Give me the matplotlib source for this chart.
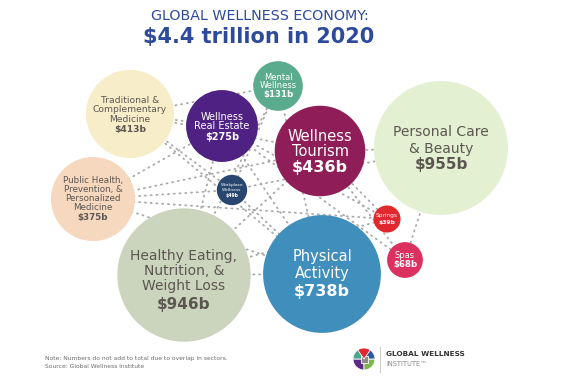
import numpy as np
import matplotlib
matplotlib.use("Agg")
import matplotlib.pyplot as plt
from matplotlib.patches import Circle, Wedge, Rectangle

# ---- data ----
sectors = ["Traditional & Complementary Medicine", "Wellness Real Estate", "Mental Wellness",
           "Wellness Tourism", "Personal Care & Beauty", "Public Health, Prevention, & Personalized Medicine",
           "Workplace Wellness", "Springs", "Spas",
           "Healthy Eating, Nutrition, & Weight Loss", "Physical Activity"]
values = [413, 275, 131, 436, 955, 375, 49, 39, 68, 946, 738]   # US$ billions
labels = ["Traditional &\nComplementary\nMedicine", "Wellness\nReal Estate", "Mental\nWellness",
          "Wellness\nTourism", "Personal Care\n& Beauty", "Public Health,\nPrevention, &\nPersonalized\nMedicine",
          "Workplace\nWellness", "Springs", "Spas",
          "Healthy Eating,\nNutrition, &\nWeight Loss", "Physical\nActivity"]
title_line1 = "GLOBAL WELLNESS ECONOMY:"
title_line2 = "$4.4 trillion in 2020"
note = "Note: Numbers do not add to total due to overlap in sectors.\nSource: Global Wellness Institute"

# network connections between sectors (indices into sectors)
links = [(0, 2), (0, 1), (0, 10), (0, 3), (5, 1), (5, 6), (5, 7), (5, 3),
         (9, 10), (9, 2), (9, 3), (1, 10), (2, 10), (3, 4), (3, 8), (3, 7),
         (4, 8), (9, 7), (1, 8), (6, 4), (5, 10), (1, 7), (0, 6), (9, 1),
         (6, 10), (2, 6)]

# ---- layout / style ----
pos = [(130, 114), (222, 126), (278, 86), (320, 151), (441, 148), (93, 199),
       (232, 190), (387, 219), (405, 260), (184, 275), (322, 274)]
colors = ["#f7edc9", "#4f2182", "#5bab8f", "#8f1d57", "#e3f0d2", "#f5d8be",
          "#29476e", "#e1282f", "#dc3160", "#cbd5bd", "#3f8ebc"]
dark_txt = "#5c5651"
txt_colors = [dark_txt, "white", "white", "white", dark_txt, dark_txt,
              "white", "white", "white", dark_txt, "white"]
lab_size = [6.6, 7.0, 6.0, 10.5, 10.0, 6.3, 3.2, 4.2, 6.0, 10.0, 10.5]
val_size = [6.6, 7.0, 6.2, 11.5, 11.0, 6.3, 3.3, 4.3, 6.2, 11.0, 11.5]
pitch = [9.5, 9.0, 8.0, 15.5, 17.0, 9.3, 5.0, 7.0, 8.0, 15.0, 17.0]     # label line pitch (px)
vgap = [10.0, 11.0, 10.0, 16.0, 16.0, 10.0, 5.0, 7.0, 8.0, 18.0, 18.0]  # gap to value line (px)
yshift = [1, 1, 0, 1, 0, 0, 0, 0, 0, 5, 0]
rmax = 67.0
radii = [rmax * np.sqrt(v / max(values)) for v in values]

W, H = 585, 377
fig = plt.figure(figsize=(W / 100, H / 100), dpi=100)
ax = fig.add_axes([0, 0, 1, 1])
ax.set_xlim(0, W)
ax.set_ylim(H, 0)
ax.set_aspect("equal")
ax.axis("off")

font = "DejaVu Sans"
title_col = "#2e4a9b"
ax.text(260, 16, title_line1, ha="center", va="center", fontsize=10.3,
        color=title_col, family=font)
ax.text(259, 37, title_line2, ha="center", va="center", fontsize=15.0,
        color=title_col, family=font, fontweight="bold")

# links
for a, b in links:
    (x1, y1), (x2, y2) = pos[a], pos[b]
    ax.plot([x1, x2], [y1, y2], color="#a9a9a9", lw=1.3,
            linestyle=(0, (0.6, 2.6)), dash_capstyle="round", zorder=1)

# bubbles
for i, (x, y) in enumerate(pos):
    ax.add_patch(Circle((x, y), radii[i], facecolor=colors[i], edgecolor="none", zorder=2))
    lines = labels[i].split("\n")
    n = len(lines)
    total = (n - 1) * pitch[i] + vgap[i]
    top = y - total / 2 + yshift[i]
    for k, ln in enumerate(lines):
        ax.text(x, top + k * pitch[i], ln, ha="center", va="center", fontsize=lab_size[i],
                color=txt_colors[i], family=font, zorder=3)
    ax.text(x, top + (n - 1) * pitch[i] + vgap[i], f"${values[i]}b", ha="center",
            va="center", fontsize=val_size[i], color=txt_colors[i], family=font,
            fontweight="bold", zorder=3)

# footer
ax.text(45, 362.5, note, ha="left", va="center", fontsize=4.3, color="#6b6b6b",
        family=font, linespacing=1.7)

# logo
lx, ly, lr = 364, 359, 11
for t1, t2, c in [(90, 180, "#5b2a86"), (0, 90, "#7ab648"), (180, 270, "#4aa58a"), (270, 360, "#2c5aa0")]:
    ax.add_patch(Wedge((lx, ly), lr, t1, t2, facecolor=c, edgecolor="white", lw=0.6, zorder=3))
ax.add_patch(Rectangle((lx - 3.5, ly - 3.5), 7, 7, facecolor="#8a8a8a", edgecolor="white", lw=0.6, zorder=4))
ax.add_patch(Wedge((lx, ly), lr, 235, 305, facecolor="#e1282f", edgecolor="white", lw=0.6, zorder=4))
ax.plot([380, 380], [347, 372], color="#cccccc", lw=0.8)
ax.text(386, 354.5, "GLOBAL WELLNESS", ha="left", va="center", fontsize=5.3,
        fontweight="bold", color="#333333", family=font)
ax.text(386, 364, "INSTITUTE\u2122", ha="left", va="center", fontsize=4.8,
        color="#888888", family=font)

fig.savefig("out.png", dpi=100, facecolor="white")
